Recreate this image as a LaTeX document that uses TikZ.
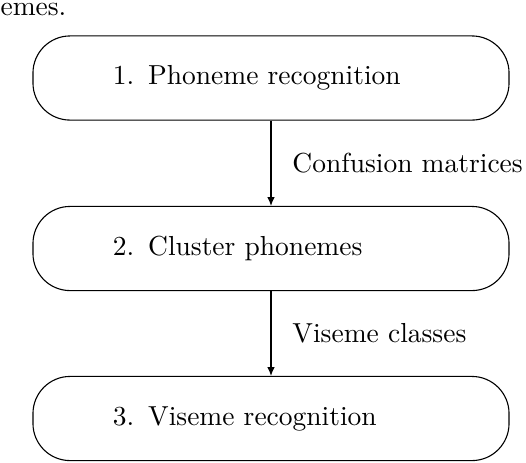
\documentclass[tikz,border=0pt]{standalone}
\usetikzlibrary{arrows.meta}
\begin{document}
\begin{tikzpicture}[x=0.3636pt, y=-0.3636pt,
  stagebox/.style={draw, line width=0.4pt, rounded corners=13.5pt,
    minimum width=173.1pt, minimum height=30.6pt,
    text width=114.9pt, inner xsep=29.1pt, inner ysep=0pt, align=left},
  flow/.style={draw, line width=0.4pt, -{Latex[length=3.2pt,width=2.8pt]}},
  flowlabel/.style={midway, anchor=west, inner sep=0pt, xshift=7.6pt}]
\useasboundingbox (0,0) rectangle (526,462);
\node[anchor=base west, inner sep=0pt] (frag) at (0,15) {emes.};
\node[stagebox] (s1) at (271,78) {1. Phoneme recognition};
\node[stagebox] (s2) at (271,248.5) {2. Cluster phonemes};
\node[stagebox] (s3) at (271,418.5) {3. Viseme recognition};
\draw[flow] (s1) -- node[flowlabel] (l1) {Confusion matrices} (s2);
\draw[flow] (s2) -- node[flowlabel] (l2) {Viseme classes} (s3);
\end{tikzpicture}
\end{document}
